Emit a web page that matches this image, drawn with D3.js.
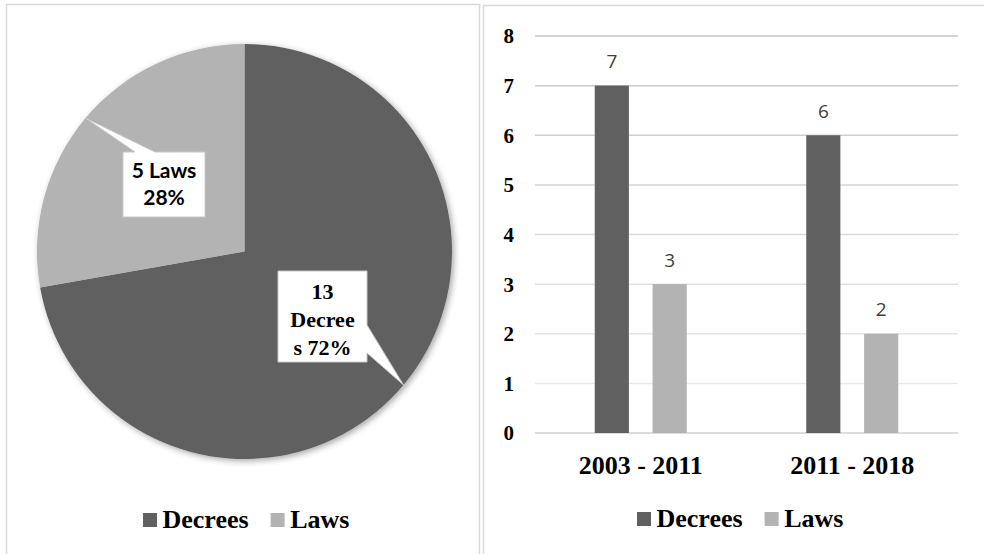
<!DOCTYPE html>
<html>
<head>
<meta charset="utf-8">
<script src="https://cdn.jsdelivr.net/npm/d3@7"></script>
<style>
  body { margin: 0; background: #fff; }
  svg { display: block; }
</style>
</head>
<body>
<div id="viz"></div>
<script>
(function() {

// Data.
const pieLabels = ["Decrees", "Laws"];
const pieValues = [13, 5];
const periods = ["2003 - 2011", "2011 - 2018"];
const decrees = [7, 6];
const laws = [3, 2];
const yTicks = [0, 1, 2, 3, 4, 5, 6, 7, 8];

const dark = "#606060";
const light = "#b3b3b3";
const colors = [dark, light];
const serif = "'Liberation Serif', 'Times New Roman', serif";

let canvasWidth = 984;
let canvasHeight = 554;

let svg = d3.select("#viz").append("svg")
  .attr("width", canvasWidth)
  .attr("height", canvasHeight);

let defs = svg.append("defs");
defs.append("filter")
    .attr("id", "pieShadow")
    .attr("x", "-10%").attr("y", "-10%")
    .attr("width", "120%").attr("height", "120%")
  .append("feDropShadow")
    .attr("dx", 2).attr("dy", 2)
    .attr("stdDeviation", 3)
    .attr("flood-color", "#000")
    .attr("flood-opacity", 0.35);

// Panel borders
svg.append("rect")
  .attr("x", 6.5).attr("y", 4.5)
  .attr("width", 473).attr("height", 560)
  .attr("fill", "none").attr("stroke", "#d9d9d9").attr("stroke-width", 1.5);
svg.append("rect")
  .attr("x", 483.5).attr("y", 5.5)
  .attr("width", 520).attr("height", 560)
  .attr("fill", "none").attr("stroke", "#d9d9d9").attr("stroke-width", 1.5);

// ---------- Pie ----------
let cx = 244.5, cy = 251.5, radius = 207.5;
let pieG = svg.append("g").attr("transform", "translate(" + cx + "," + cy + ")");

let pie = d3.pie().sort(null).value((d) => d);
let arcs = pie(pieValues);
let arc = d3.arc().innerRadius(0).outerRadius(radius);
let edgeArc = d3.arc().innerRadius(radius).outerRadius(radius);

pieG.append("g")
    .attr("filter", "url(#pieShadow)")
  .selectAll("path")
  .data(arcs)
  .enter().append("path")
    .attr("d", arc)
    .attr("fill", (d, i) => colors[i]);

let total = d3.sum(pieValues);

// Word wrap like the spreadsheet does in narrow label boxes.
function wrapChars(text, maxChars) {
  let lines = [];
  let cur = "";
  text.split(" ").forEach((w) => {
    let trial = cur ? cur + " " + w : w;
    if (trial.length <= maxChars) { cur = trial; return; }
    if (cur) { lines.push(cur); cur = ""; }
    while (w.length > maxChars) {
      lines.push(w.slice(0, maxChars));
      w = w.slice(maxChars);
    }
    cur = w;
  });
  if (cur) lines.push(cur);
  return lines;
}

// Callout boxes (box in page coords, pointer base along one box edge)
let callouts = [
  { box: [278, 271, 367, 362], side: "right", base: [325, 353],
    font: serif, size: 22, lineH: 28, firstY: 299 },
  { box: [123, 152, 205, 217], side: "top", base: [135, 155],
    font: "Lato, 'Open Sans', sans-serif", size: 21, lineH: 27, firstY: 178 }
];

let labelG = svg.append("g");
arcs.forEach((d, i) => {
  let c = callouts[i];
  let tip = edgeArc.centroid(d);
  let tx = cx + tip[0], ty = cy + tip[1];
  let [x0, y0, x1, y1] = c.box;
  let p;
  if (c.side === "right") {
    p = [[x0, y0], [x1, y0], [x1, c.base[0]], [tx, ty], [x1, c.base[1]], [x1, y1], [x0, y1]];
  } else {
    p = [[x0, y0], [c.base[0], y0], [tx, ty], [c.base[1], y0], [x1, y0], [x1, y1], [x0, y1]];
  }
  labelG.append("path")
    .attr("d", d3.line()(p) + "Z")
    .attr("fill", "#fff")
    .attr("stroke", "#c8c8c8")
    .attr("stroke-width", 1);

  let pct = Math.round(pieValues[i] / total * 100);
  let lines = wrapChars(pieValues[i] + " " + pieLabels[i] + " " + pct + "%", 6);
  labelG.selectAll(null)
    .data(lines)
    .enter().append("text")
      .attr("x", (x0 + x1) / 2)
      .attr("y", (l, j) => c.firstY + j * c.lineH)
      .attr("text-anchor", "middle")
      .attr("font-family", c.font)
      .attr("font-weight", "bold")
      .attr("font-size", c.size)
      .attr("fill", "#000")
      .text((l) => l);
});

// Legends
function drawLegend(x, y) {
  let g = svg.append("g");
  let pos = x;
  pieLabels.forEach((name, i) => {
    g.append("rect")
      .attr("x", pos).attr("y", y)
      .attr("width", 14).attr("height", 14)
      .attr("fill", colors[i]);
    let t = g.append("text")
      .attr("x", pos + 19.5)
      .attr("y", y + 14.5)
      .attr("font-family", serif)
      .attr("font-weight", "bold")
      .attr("font-size", 26)
      .attr("fill", "#000")
      .text(name);
    pos = pos + 19.5 + t.node().getComputedTextLength() + 22;
  });
}
drawLegend(143, 513);
drawLegend(637, 512);

// ---------- Bars ----------
let plotLeft = 535, plotRight = 958, plotTop = 36, plotBottom = 433;
let series = ["Decrees", "Laws"];
let seriesValues = [decrees, laws];

let y = d3.scaleLinear().domain([0, 8]).range([plotBottom, plotTop]);
let x0 = d3.scaleBand().domain(periods).range([plotLeft, plotRight])
  .paddingInner(0.565).paddingOuter(0.2825);
let x1 = d3.scaleBand().domain(series).range([0, x0.bandwidth()]).paddingInner(0.41);

let gridColor = d3.scaleLinear().domain([1, 8]).range(["#e9e9e9", "#c6c6c6"]);
svg.append("g")
  .selectAll("line")
  .data(yTicks)
  .enter().append("line")
    .attr("x1", plotLeft).attr("x2", plotRight)
    .attr("y1", (d) => y(d)).attr("y2", (d) => y(d))
    .attr("stroke", (d) => d === 0 ? "#d0d0d0" : gridColor(d))
    .attr("stroke-width", 1.5);

let yAxis = svg.append("g")
  .attr("transform", "translate(" + plotLeft + ",0)")
  .call(d3.axisLeft(y).tickValues(yTicks).tickSize(0).tickPadding(21).tickFormat(d3.format("d")));
yAxis.select(".domain").remove();
yAxis.selectAll("text")
  .attr("font-family", serif)
  .attr("font-weight", "bold")
  .attr("font-size", 21)
  .attr("fill", "#000")
  .attr("dy", "0.33em");

let xAxis = svg.append("g")
  .attr("transform", "translate(0," + plotBottom + ")")
  .call(d3.axisBottom(x0).tickSize(0));
xAxis.select(".domain").remove();
xAxis.selectAll("text")
  .attr("y", 41)
  .attr("dy", 0)
  .attr("font-family", serif)
  .attr("font-weight", "bold")
  .attr("font-size", 26)
  .attr("fill", "#000");

let barData = [];
periods.forEach((p, i) => {
  series.forEach((s, j) => {
    barData.push({ period: p, series: s, value: seriesValues[j][i], color: colors[j] });
  });
});

let bars = svg.append("g");
bars.selectAll("rect")
  .data(barData)
  .enter().append("rect")
    .attr("x", (d) => x0(d.period) + x1(d.series))
    .attr("y", (d) => y(d.value))
    .attr("width", x1.bandwidth())
    .attr("height", (d) => y(0) - y(d.value))
    .attr("fill", (d) => d.color);

bars.selectAll("text")
  .data(barData)
  .enter().append("text")
    .attr("x", (d) => x0(d.period) + x1(d.series) + x1.bandwidth() / 2)
    .attr("y", (d) => y(d.value) - 17.5)
    .attr("text-anchor", "middle")
    .attr("font-family", "'Open Sans', sans-serif")
    .attr("font-size", 19)
    .attr("fill", "#404040")
    .text((d) => d.value);

})();
</script>
</body>
</html>
